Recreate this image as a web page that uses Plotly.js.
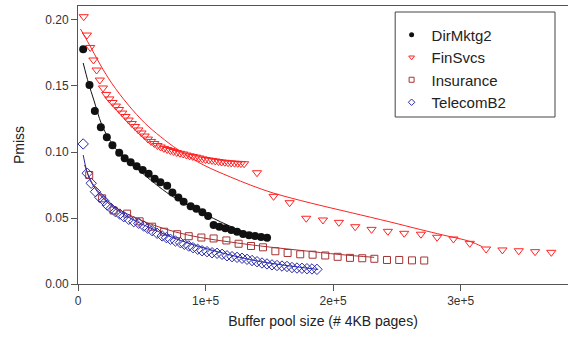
<!DOCTYPE html>
<html>
<head>
<meta charset="utf-8">
<script src="https://cdn.plot.ly/plotly-3.0.1.min.js"></script>
<style>html,body{margin:0;padding:0;background:#fff;}#chart{width:569px;height:339px;}</style>
</head>
<body>
<div id="chart"></div>
<script>
// ---- data ----
const seriesNames = ["DirMktg2", "FinSvcs", "Insurance", "TelecomB2"];

const dirX = [4070, 9000, 13200, 17900, 22600, 27000, 32300, 36600, 41300, 46000, 50700, 55400, 60100, 64600, 69900, 74000, 78700, 82800, 88300, 92800, 97500, 102000, 106300, 110800, 115500, 120200, 124700, 129400, 134100, 138800, 143500, 148200];
const dirY = [0.1778, 0.1508, 0.1311, 0.1187, 0.1111, 0.1051, 0.0995, 0.0952, 0.0922, 0.0892, 0.0864, 0.0836, 0.0798, 0.0770, 0.0745, 0.0693, 0.0655, 0.0623, 0.0589, 0.0570, 0.0543, 0.0515, 0.0447, 0.0434, 0.0422, 0.0409, 0.0396, 0.0379, 0.0369, 0.0364, 0.0356, 0.0351];
const dirFitX = [4070, 8200, 12400, 18400, 23900, 31700, 38800, 48900, 72400, 95900, 117100, 142900, 149200];
const dirFitY = [0.1674, 0.1523, 0.1394, 0.1212, 0.1106, 0.1000, 0.0939, 0.0852, 0.0674, 0.0548, 0.0447, 0.0346, 0.0326];

const finX = [4500, 7000, 9600, 12100, 14600, 17100, 19600, 22100, 24600, 27100, 29700, 32200, 34700, 37200, 39700, 42200, 44700, 47300, 49800, 52300, 54800, 57300, 59800, 62300, 64800, 67400, 69900, 72400, 74900, 77400, 79900, 82400, 85000, 87500, 90000, 92500, 95000, 97500, 100000, 102500, 105100, 107600, 110100, 112600, 115100, 117600, 120100, 122700, 125200, 127700, 130200,
  140300, 153300, 165900, 178900, 192000, 204500, 217300, 230100, 242900, 255700, 268800, 281500, 294300, 307100, 319900, 332700, 345500, 358300, 371000];
const finY = [0.2025, 0.1886, 0.1792, 0.1697, 0.1621, 0.1545, 0.1485, 0.1436, 0.1402, 0.1375, 0.1348, 0.1322, 0.1295, 0.1269, 0.1242, 0.1216, 0.1193, 0.1167, 0.1144, 0.1121, 0.1098, 0.1080, 0.1064, 0.1049, 0.1038, 0.1027, 0.1019, 0.1011, 0.1004, 0.0996, 0.0990, 0.0985, 0.0977, 0.0971, 0.0966, 0.0961, 0.0955, 0.0948, 0.0943, 0.0939, 0.0936, 0.0932, 0.0928, 0.0924, 0.0922, 0.0919, 0.0917, 0.0915, 0.0914, 0.0912, 0.0911,
  0.0843, 0.0664, 0.0616, 0.0498, 0.0485, 0.0467, 0.0434, 0.0414, 0.0399, 0.0384, 0.0377, 0.0354, 0.0341, 0.0308, 0.0265, 0.0258, 0.0252, 0.0245, 0.0240];
const finFitX = [1960, 9000, 17600, 26500, 39500, 52600, 64600, 78700, 98300, 119400, 135100, 153100, 182100, 213400, 244700, 268200, 286200, 307400, 316800];
const finFitY = [0.1932, 0.1811, 0.1659, 0.1520, 0.1356, 0.1217, 0.1117, 0.1015, 0.0902, 0.0811, 0.0750, 0.0689, 0.0614, 0.0542, 0.0470, 0.0413, 0.0371, 0.0322, 0.0283];

const insX = [8800, 18900, 27900, 38500, 48300, 58100, 67500, 77700, 86800, 96700, 106300, 116300, 125900, 135600, 145000, 154700, 164300, 174200, 183900, 193800, 203500, 213200, 222800, 232300, 242200, 251800, 261800, 271400];
const insY = [0.0826, 0.0649, 0.0557, 0.0533, 0.0475, 0.0434, 0.0396, 0.0377, 0.0362, 0.0352, 0.0345, 0.0330, 0.0305, 0.0288, 0.0278, 0.0248, 0.0235, 0.0225, 0.0222, 0.0216, 0.0206, 0.0198, 0.0195, 0.0191, 0.0182, 0.0182, 0.0179, 0.0178];
const insFitX = [5100, 9800, 17600, 27800, 38800, 56800, 76400, 95900, 119400, 142900, 174200, 205600, 232200];
const insFitY = [0.0902, 0.0788, 0.0682, 0.0591, 0.0530, 0.0455, 0.0394, 0.0352, 0.0318, 0.0288, 0.0255, 0.0223, 0.0202];

const telX = [4070, 7200, 10340, 13700, 17070, 20200, 22870, 26000, 29370, 32730, 35870, 39780, 43700, 47610, 51530, 54660, 58100, 62020, 65940, 69300, 72440, 76350, 80270, 83400, 86770, 90210, 93810, 97260, 101170, 105090, 109010, 112920, 116840, 120750, 124670, 128580, 132500, 136410, 140330, 144240, 148160, 152070, 155990, 159910, 163820, 167740, 171650, 175570, 179480, 183400, 187310];
const telY = [0.1061, 0.0839, 0.0763, 0.0699, 0.0657, 0.0631, 0.0598, 0.0573, 0.0548, 0.0530, 0.0510, 0.0490, 0.0472, 0.0460, 0.0439, 0.0422, 0.0404, 0.0384, 0.0364, 0.0351, 0.0339, 0.0326, 0.0313, 0.0301, 0.0288, 0.0275, 0.0263, 0.0252, 0.0245, 0.0237, 0.0233, 0.0225, 0.0214, 0.0207, 0.0202, 0.0195, 0.0187, 0.0178, 0.0169, 0.0159, 0.0152, 0.0145, 0.0140, 0.0136, 0.0133, 0.0125, 0.0121, 0.0119, 0.0116, 0.0114, 0.0111];
const telFitX = [4070, 6660, 9790, 13700, 17600, 25500, 37200, 56800, 80300, 111600, 142900, 188300];
const telFitY = [0.0977, 0.0864, 0.0780, 0.0720, 0.0670, 0.0598, 0.0519, 0.0424, 0.0330, 0.0239, 0.0170, 0.0110];

const xTickVals = [0, 100000, 200000, 300000];
const xTickText = ["0", "1e+5", "2e+5", "3e+5"];
const yTickVals = [0, 0.05, 0.10, 0.15, 0.20];

// ---- styling ----
const cBlack = "#111111", cRed = "#ff2222", cBrown = "#a83232", cBlue = "#2a2aaa";
const font = "Liberation Sans, Arial, Helvetica, sans-serif";

function fit(x, y, color) {
  return {x: x, y: y, type: "scatter", mode: "lines", line: {color: color, width: 1, shape: "spline", smoothing: 1}, showlegend: false, hoverinfo: "skip"};
}
function pts(x, y, symbol, color, size, lw) {
  return {x: x, y: y, type: "scatter", mode: "markers", showlegend: false,
    marker: {symbol: symbol, size: size, color: color, line: {color: color, width: lw}}};
}
function leg(name, symbol, color, size, lw) {
  return {x: [null], y: [null], type: "scatter", mode: "markers", name: name, showlegend: true,
    marker: {symbol: symbol, size: size, color: color, line: {color: color, width: lw}}};
}

const data = [
  fit(insFitX, insFitY, cBrown),
  fit(telFitX, telFitY, cBlue),
  fit(dirFitX, dirFitY, cBlack),
  fit(finFitX, finFitY, cRed),
  pts(insX, insY, "square-open", cBrown, 7, 1),
  pts(telX, telY, "diamond-open", cBlue, 8, 1),
  pts(dirX, dirY, "circle", cBlack, 8, 0),
  pts(finX, finY, "triangle-down-open", cRed, 8, 1),
  leg(seriesNames[0], "circle", cBlack, 5, 0),
  leg(seriesNames[1], "triangle-down-open", cRed, 5, 1),
  leg(seriesNames[2], "square-open", cBrown, 5, 1),
  leg(seriesNames[3], "diamond-open", cBlue, 5, 1)
];

const layout = {
  width: 569, height: 339,
  margin: {l: 77.5, r: 1, t: 6, b: 55, pad: 0},
  paper_bgcolor: "#ffffff", plot_bgcolor: "#ffffff",
  font: {family: font, size: 12, color: "#333333"},
  showlegend: true,
  legend: {x: 0.64, y: 0.955, xanchor: "left", yanchor: "top", bgcolor: "rgba(0,0,0,0)", borderwidth: 0,
    font: {family: font, size: 15, color: "#222222"}},
  xaxis: {range: [0, 384100], showgrid: false, zeroline: false, showline: true, mirror: true,
    linecolor: "#555555", linewidth: 1, ticks: "outside", ticklen: 6, tickcolor: "#555555",
    tickvals: xTickVals, ticktext: xTickText, tickfont: {family: font, size: 12, color: "#333333"},
    title: {text: "Buffer pool size (# 4KB pages)", font: {family: font, size: 14, color: "#222222"}, standoff: 8}},
  yaxis: {range: [0, 0.2106], showgrid: false, zeroline: false, showline: true, mirror: false,
    linecolor: "#555555", linewidth: 1, ticks: "outside", ticklen: 6, tickcolor: "#555555",
    tickvals: yTickVals, tickformat: ".2f", tickfont: {family: font, size: 12, color: "#333333"},
    title: {text: "Pmiss", font: {family: font, size: 14, color: "#222222"}, standoff: 17}},
  shapes: [{type: "rect", xref: "paper", yref: "paper", x0: 0.6473, x1: 0.9735, y0: 0.6007, y1: 0.9784,
    line: {color: "#444444", width: 1}, fillcolor: "rgba(0,0,0,0)", layer: "above"}]
};

Plotly.newPlot("chart", data, layout, {staticPlot: true, displayModeBar: false});
</script>
</body>
</html>
